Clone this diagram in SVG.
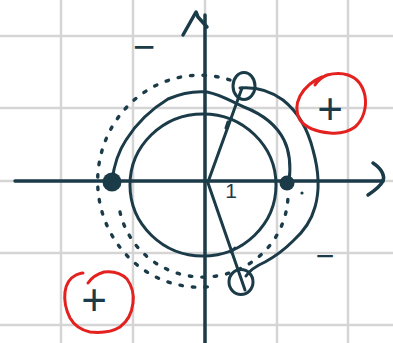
<svg xmlns="http://www.w3.org/2000/svg" width="393" height="343" viewBox="0 0 393 343">
<style>
.grid{stroke:#d5d5d5;stroke-width:2.5;fill:none}
.ink{stroke:#1b3b49;stroke-width:3;fill:none;stroke-linecap:round;stroke-linejoin:round}
.axis{stroke:#1b3b49;stroke-width:3.5;fill:none;stroke-linecap:round;stroke-linejoin:round}
.dots{stroke:#1b3b49;stroke-width:3.4;fill:none;stroke-linecap:round;stroke-dasharray:2.5 10}
.red{stroke:#e3211f;stroke-width:3;fill:none;stroke-linecap:round;stroke-linejoin:round}
.lbl{font-family:"Liberation Sans",Arial,sans-serif;fill:#1b3b49;text-anchor:middle}
</style>
<rect width="393" height="343" fill="#ffffff"/>
<g id="grid">
<path class="grid" d="M61 0V343M133 0V343M277 0V343M348 0V343M0 36H393M0 108H393M0 253H393M0 325H393"/>
<path class="grid" d="M205 0V343M0 181H393"/>
</g>
<g id="axes">
<path class="axis" d="M15 181H383"/>
<path class="axis" d="M373 163C382 169 385 176 383 181C380 187 374 191 368 195"/>
<path class="axis" d="M205 15V343"/>
<path class="axis" d="M183 35L196 12L198 17L207 27"/>
</g>
<g id="circles">
<ellipse class="ink" cx="203" cy="185" rx="73" ry="71"/>
<path class="dots" d="M230 80A102 106 0 1 0 215 286"/>
<path class="dots" d="M120 212A85 83 0 0 0 288 195"/>
<circle cx="302" cy="193" r="1.6" fill="#1b3b49"/>
</g>
<g id="contours">
<path class="ink" d="M112 181C114 165 118 152 126 140C136 124 150 110 168 99C182 93 195 91 207 92C222 95 230 101 244 107C262 114 276 124 284 140C290 152 291 166 289 182"/>
<path class="ink" d="M240 88C252 87 268 89 283 100C298 112 308 130 313 150C318 168 320 190 315 207C311 222 302 233 293 241C284 250 276 256 265 262C256 266 250 270 246 276"/>
</g>
<g id="rays">
<path class="ink" d="M208 182L242 88"/>
<path class="ink" d="M226 128L228 122"/>
<path class="ink" d="M208 183L245 290"/>
<path class="ink" d="M231 252L235 248"/>
<ellipse class="ink" cx="244" cy="86" rx="11" ry="13.5"/>
<ellipse class="ink" cx="241" cy="282" rx="12" ry="12.5"/>
</g>
<g id="points">
<circle cx="112" cy="182" r="9.5" fill="#1b3b49"/>
<circle cx="287" cy="183" r="7.5" fill="#1b3b49"/>
</g>
<g id="labels">
<text class="lbl" x="144" y="60" font-size="38">−</text>
<text class="lbl" x="325" y="267" font-size="32">−</text>
<text class="lbl" x="231" y="198" font-size="21">1</text>
<text class="lbl" x="330" y="124" font-size="44">+</text>
<text class="lbl" x="94" y="315" font-size="44">+</text>
</g>
<g id="red-marks">
<path class="red" d="M315 85C318 80 322 77 327 75C335 73 342 73 348 75C357 78 363 86 365 96C367 108 363 120 355 127C348 132 340 134 330 133C318 132 306 128 300 120C296 113 296 104 300 96C305 87 312 81 322 77"/>
<path class="red" d="M88 283C92 277 97 274 104 272C112 271 121 273 127 279C132 286 134 295 133 303C132 312 128 321 120 327C112 332 100 333 90 332C81 330 74 325 70 318C66 310 64 300 65 292C66 284 70 278 76 275C79 274 81 273 83 273"/>
</g>
</svg>
